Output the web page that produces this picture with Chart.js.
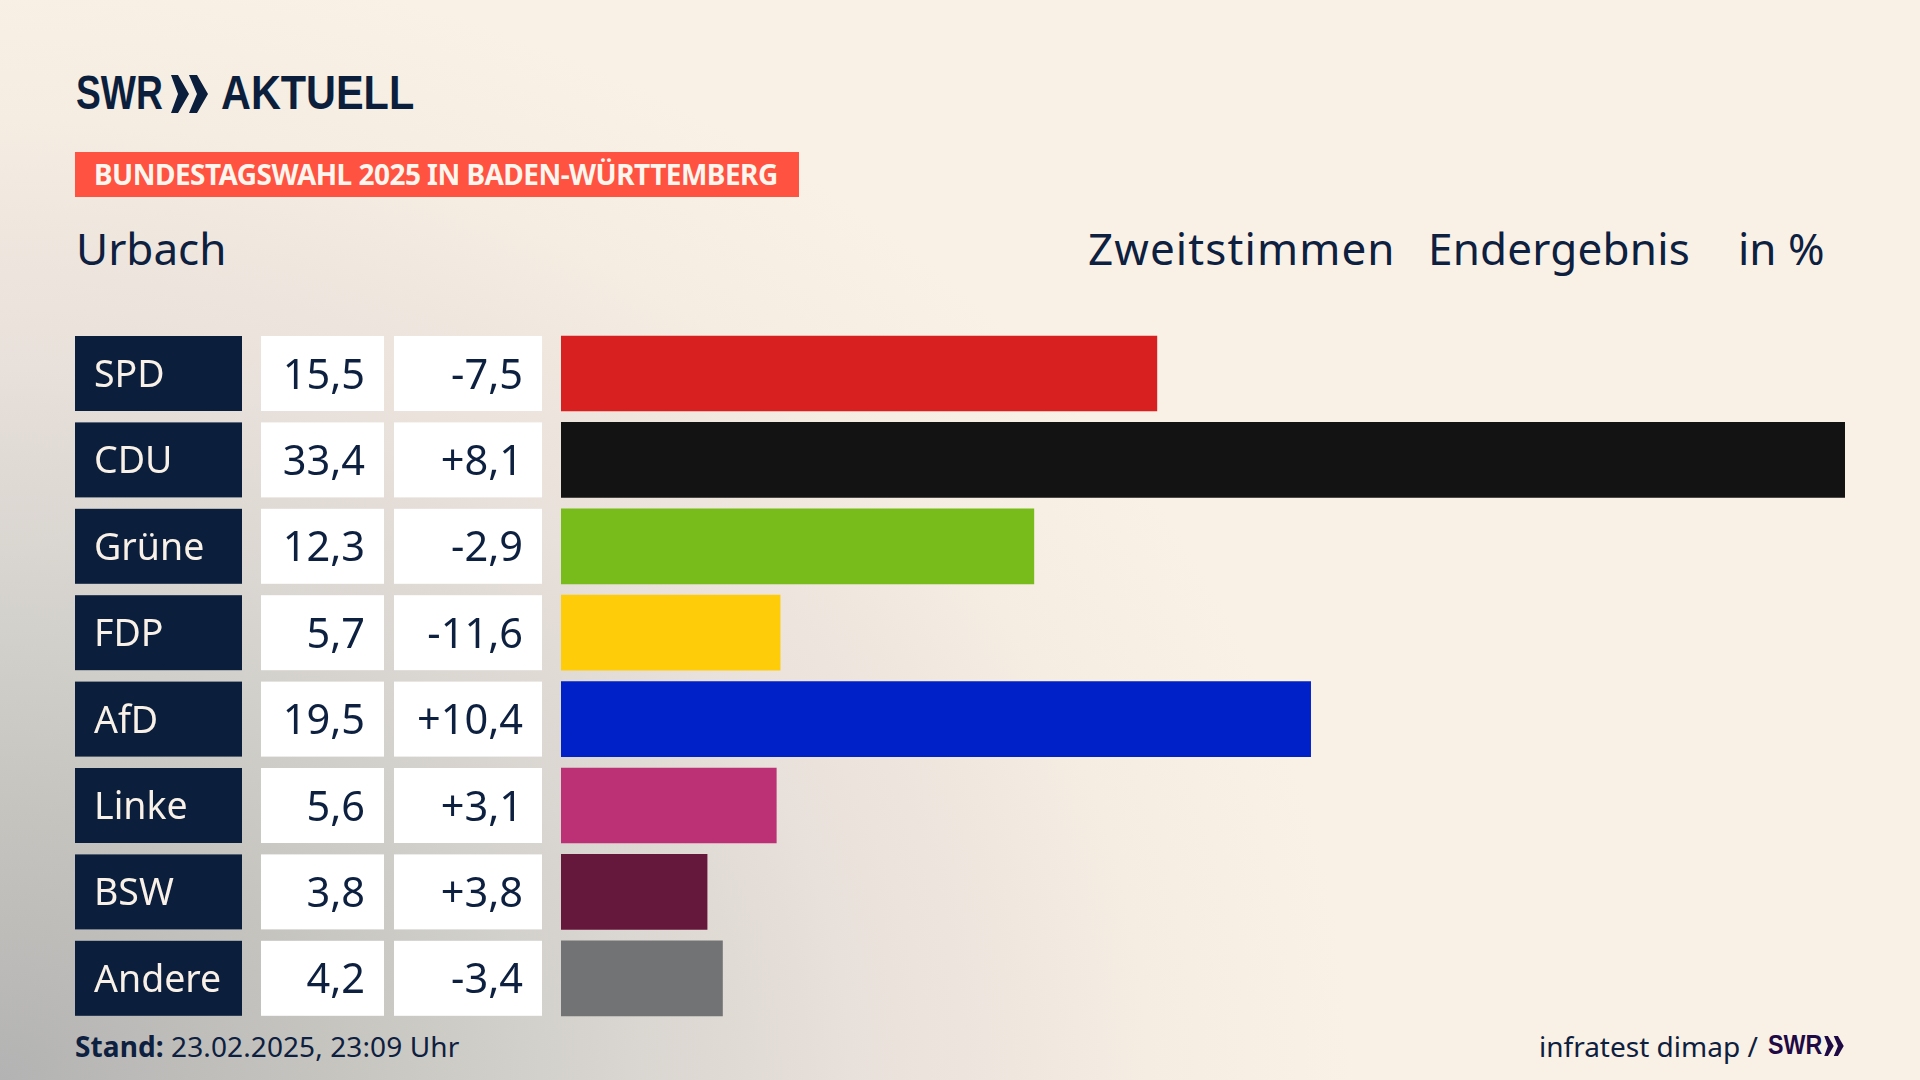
<!DOCTYPE html>
<html lang="de">
<head>
<meta charset="utf-8">
<title>Urbach Zweitstimmen</title>
<script src="https://cdn.jsdelivr.net/npm/chart.js@4"></script>
<style>
html, body { margin: 0; padding: 0; }
body {
    width: 1920px; height: 1080px; overflow: hidden; position: relative;
    background-color: #faf1e6;
    background-image: radial-gradient(ellipse 1350px 1130px at 0% 100%, #b3b3b3 0%, #c6c4bf 24%, #d3d1cc 40%, #e8e0da 63%, #f5ece2 85%, #faf1e6 100%);
    font-family: "Noto Sans", sans-serif; color: #0d2040;
}
canvas { position: absolute; left: 0; top: 0; }
.t { position: absolute; white-space: nowrap; line-height: 1; }
.logo { font-family: "Liberation Sans", sans-serif; font-weight: 700; color: #0b1f3d; font-size: 49px; top: 68px; transform-origin: left top; }
.banner { position: absolute; left: 75px; top: 152px; width: 724px; height: 45px; background: #ff5240; }
.banner span { position: absolute; left: 19px; top: 8px; font-size: 28px; line-height: 1; font-weight: 700; color: #fdf6ee; white-space: nowrap; letter-spacing: -0.54px; }
.head { font-size: 44px; top: 226px; }
.foot { font-size: 28px; top: 1032px; }
svg { position: absolute; }
</style>
</head>
<body>
<span class="t logo" style="left:76px;transform:scaleX(.76)">SWR</span>
<svg style="left:171px;top:75px" width="37" height="38" viewBox="0 0 37 38"><path d="M0 0h7l11 19-11 19H0l7-19zM18 0h8l11 19-11 19h-8l8-19z" fill="#0b1f3d"/></svg>
<span class="t logo" style="left:221px;transform:scaleX(.845)">AKTUELL</span>
<div class="banner"><span>BUNDESTAGSWAHL 2025 IN BADEN-WÜRTTEMBERG</span></div>
<span class="t head" style="left:76px">Urbach</span>
<span class="t head" style="left:1088px;letter-spacing:1.1px">Zweitstimmen</span>
<span class="t head" style="left:1428px;letter-spacing:.2px">Endergebnis</span>
<span class="t head" style="left:1738px">in %</span>
<span class="t foot" style="left:75px;letter-spacing:.1px"><b>Stand:</b> 23.02.2025, 23:09 Uhr</span>
<span class="t foot" style="left:1539px">infratest dimap /</span>
<span class="t" style="left:1768px;top:1032px;font-family:'Liberation Sans';font-weight:700;font-size:27px;color:#1f0a45;transform:scaleX(.86);transform-origin:left top">SWR</span>
<svg style="left:1824px;top:1036px" width="20" height="20" viewBox="0 0 37 38"><path d="M0 0h7l11 19-11 19H0l7-19zM18 0h8l11 19-11 19h-8l8-19z" fill="#1f0a45"/></svg>
<canvas id="myChart" width="1920" height="1080"></canvas>
<script>
var parties = ['SPD', 'CDU', 'Grüne', 'FDP', 'AfD', 'Linke', 'BSW', 'Andere'];
var shares = [15.5, 33.4, 12.3, 5.7, 19.5, 5.6, 3.8, 4.2];
var changes = ['-7,5', '+8,1', '-2,9', '-11,6', '+10,4', '+3,1', '+3,8', '-3,4'];
var colors = ['#d7201f', '#131313', '#78bc1b', '#ffcc0a', '#0020c8', '#bc3075', '#66183c', '#727374'];

// navy label box and the two white number boxes left of each bar
var rowCells = {
    id: 'rowCells',
    beforeDatasetsDraw: function (chart) {
        var c = chart.ctx;
        var y = chart.scales.y;
        c.save();
        c.textBaseline = 'alphabetic';
        parties.forEach(function (name, i) {
            var top = y.getPixelForValue(i) - 37.5;
            c.fillStyle = '#0b1f3d';
            c.fillRect(75, top, 167, 75);
            c.fillStyle = '#ffffff';
            c.fillRect(261, top, 123, 75);
            c.fillRect(394, top, 148, 75);

            c.font = '37.5px "Noto Sans"';
            c.textAlign = 'left';
            c.fillStyle = '#f9f1e7';
            c.fillText(name, 94, top + 51);

            c.font = '41.5px "Noto Sans"';
            c.textAlign = 'right';
            c.fillStyle = '#0d2040';
            c.fillText(shares[i].toFixed(1).replace('.', ','), 365, top + 52.5);
            c.fillText(changes[i], 523, top + 52.5);
        });
        c.restore();
    }
};

var myChart = new Chart(document.getElementById('myChart').getContext('2d'), {
    type: 'bar',
    data: {
        labels: parties,
        datasets: [{
            data: shares,
            backgroundColor: colors,
            borderWidth: 0,
            barThickness: 75
        }]
    },
    options: {
        indexAxis: 'y',
        responsive: false,
        animation: false,
        layout: { padding: { left: 561, right: 75, top: 330.3, bottom: 58.5 } },
        plugins: {
            legend: { display: false },
            title: { display: false },
            tooltip: { enabled: false }
        },
        scales: {
            x: { display: false, min: 0, max: 33.4 },
            y: { display: false }
        }
    },
    plugins: [rowCells]
});
</script>
</body>
</html>
